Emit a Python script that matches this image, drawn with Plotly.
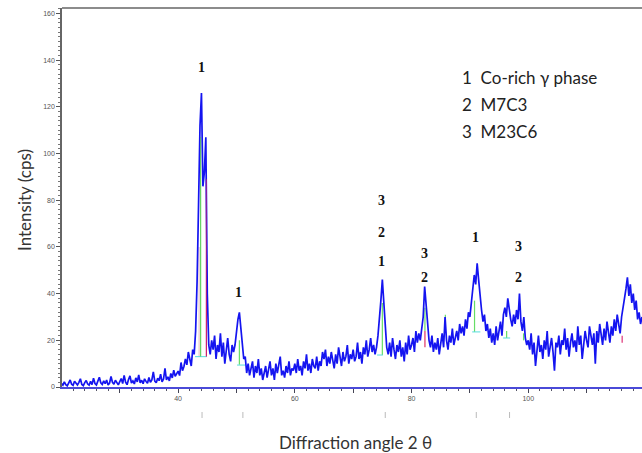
import numpy as np
import plotly.graph_objects as go

# ---- data: XRD scan (2-theta grid 20..119.5, step 0.25) ----
angle_start = 20.0
angle_step = 0.25
c20 = [1.5, 0.8, 2.2, 1.0, 0.5, 1.8, 3.0, 1.2, 0.7, 2.5, 1.4, 0.9, 2.0, 3.5, 1.1, 0.6, 1.9, 2.8, 1.3, 0.8]
c25 = [2.4, 1.0, 3.8, 1.5, 0.9, 2.2, 4.2, 1.8, 1.1, 2.6, 1.4, 3.0, 0.8, 1.7, 4.5, 2.0, 1.2, 2.9, 1.6, 0.9]
c30 = [2.3, 3.6, 1.5, 5.0, 2.1, 1.0, 3.2, 4.8, 1.7, 2.6, 1.3, 3.9, 2.2, 5.2, 1.8, 2.9, 1.4, 3.5, 2.4, 1.6]
c35 = [4.1, 2.0, 3.0, 6.5, 2.5, 1.8, 3.8, 2.7, 5.5, 2.2, 3.4, 8.0, 3.0, 4.4, 2.6, 5.8, 3.9, 7.2, 4.6, 5.5]
c40 = [6.8, 4.9, 10.5, 7.0, 8.8, 12.0, 9.5, 15.0, 11.5, 9.0, 16.0, 14.0, 24.0, 45.0, 78.0, 112.0, 126.0, 86.0, 92.0, 107.0]
c45 = [40, 18, 14, 20, 16, 22, 12, 18, 15, 23, 13, 19, 10, 17, 21, 14, 11, 18, 15, 18]
c50 = [24, 29, 32, 26, 17, 12, 13, 6, 10, 5, 8, 11, 4, 9, 6, 12, 5, 8, 3, 7]
c55 = [9, 4, 7, 11, 5, 8, 3, 10, 6, 9, 13, 5, 7, 4, 9, 6, 11, 5, 8, 7]
c60 = [10, 6, 12, 7, 9, 5, 11, 8, 14, 7, 10, 6, 12, 9, 8, 13, 7, 11, 9, 15]
c65 = [12, 16, 9, 13, 10, 15, 11, 8, 14, 10, 17, 12, 9, 15, 11, 13, 18, 10, 14, 12]
c70 = [16, 11, 13, 19, 12, 15, 10, 17, 14, 20, 13, 16, 21, 15, 18, 14, 17, 22, 28, 37]
c75 = [46, 35, 24, 17, 14, 19, 13, 21, 16, 12, 18, 15, 20, 13, 17, 11, 19, 14, 22, 16]
c80 = [18, 21, 15, 24, 19, 23, 20, 26, 30, 43, 35, 24, 20, 17, 22, 15, 19, 16, 21, 14]
c85 = [18, 23, 17, 30, 20, 16, 22, 19, 25, 18, 21, 24, 20, 27, 23, 26, 22, 29, 25, 32]
c90 = [30, 36, 42, 48, 44, 53, 46, 38, 33, 28, 31, 24, 27, 21, 25, 19, 23, 18, 26, 20]
c95 = [24, 28, 22, 31, 34, 30, 38, 33, 29, 26, 31, 27, 33, 29, 40, 28, 24, 30, 21, 18]
c100 = [20, 16, 23, 14, 19, 9, 17, 22, 15, 18, 12, 20, 16, 24, 13, 18, 21, 15, 7, 19]
c105 = [17, 22, 14, 20, 18, 25, 16, 21, 13, 19, 23, 17, 20, 15, 26, 18, 22, 12, 19, 24]
c110 = [20, 17, 26, 21, 18, 23, 10, 24, 19, 27, 22, 18, 25, 20, 28, 23, 19, 26, 22, 29]
c115 = [24, 31, 27, 23, 30, 35, 38, 42, 47, 39, 44, 36, 40, 33, 37, 29, 32, 27, 30]

intensity = (c20 + c25 + c30 + c35 + c40 + c45 + c50 + c55 + c60 + c65 + c70 + c75
             + c80 + c85 + c90 + c95 + c100 + c105 + c110 + c115)
angle = angle_start + angle_step * np.arange(len(intensity))

# peak marker lines from the software (x, y from, y to, colour)
marker_x = [43.6, 43.85, 44.85, 50.5, 75.0, 82.3, 82.3, 85.8, 90.8, 96.3, 99.2, 116.1]
marker_y0 = [13, 13, 13, 9.5, 13.7, 17, 24, 26, 23.6, 21, 20, 19]
marker_y1 = [60, 107, 89, 20, 36, 24, 34, 31, 37, 24, 23, 22]
marker_c = ["#e8c8c8", "#66dd66", "#cc2266", "#66dd66", "#66dd66", "#dd3366", "#66dd66",
            "#66dd66", "#66dd66", "#66dd66", "#66dd66", "#dd3377"]
base_x0 = [42.9, 50.1, 74.1, 90.4, 95.7]
base_x1 = [44.9, 51.5, 75.1, 91.8, 96.9]
base_y = [13, 9.4, 13.7, 23.6, 21]

# reference pattern ticks below the axis
ref_ticks = [44.1, 51.1, 75.5, 91.1, 96.8]

# peak labels
label_x = [44.0, 50.4, 74.8, 74.8, 74.8, 82.3, 82.3, 90.9, 98.3, 98.3]
label_y = [136.7, 40.3, 80.1, 66.4, 53.6, 57.4, 47.1, 63.9, 60.4, 47.1]
label_t = ["1", "1", "3", "2", "1", "3", "2", "1", "3", "2"]

legend_lines = ["1  Co-rich γ phase", "2  M7C3", "3  M23C6"]

x_ticks = [30, 40, 50, 60, 70, 80, 90, 100, 110, 120]
x_ticktext = ["", "40", "", "60", "", "80", "", "100", "", "120"]
y_ticks = [0, 20, 40, 60, 80, 100, 120, 140, 160]

fig = go.Figure()

for xm, y0, y1, c in zip(marker_x, marker_y0, marker_y1, marker_c):
    fig.add_trace(go.Scatter(x=[xm, xm], y=[y0, y1], mode="lines",
                             line=dict(color=c, width=1.2), hoverinfo="skip", showlegend=False))
for x0, x1, yb in zip(base_x0, base_x1, base_y):
    fig.add_trace(go.Scatter(x=[x0, x1], y=[yb, yb], mode="lines",
                             line=dict(color="#55dddd", width=1), hoverinfo="skip", showlegend=False))

fig.add_trace(go.Scatter(x=angle, y=intensity, mode="lines",
                         line=dict(color="#1414f0", width=1.7), showlegend=False))

# marker lines that sit on top of the main peak
fig.add_trace(go.Scatter(x=[marker_x[1], marker_x[1]], y=[marker_y0[1], marker_y1[1]], mode="lines",
                         line=dict(color="#66cc66", width=1), opacity=0.7, hoverinfo="skip", showlegend=False))
fig.add_trace(go.Scatter(x=[marker_x[2], marker_x[2]], y=[marker_y0[2], marker_y1[2]], mode="lines",
                         line=dict(color="#cc2277", width=1), opacity=0.7, hoverinfo="skip", showlegend=False))

annotations = []
for lx, ly, lt in zip(label_x, label_y, label_t):
    annotations.append(dict(x=lx, y=ly, xref="x", yref="y", text="<b>" + lt + "</b>", showarrow=False,
                            font=dict(family="Liberation Serif", size=14, color="#111")))
for i, t in enumerate(legend_lines):
    annotations.append(dict(x=460, y=77 + 27 * i, text=t, showarrow=False,
                            xanchor="left", yanchor="middle",
                            font=dict(family="Lato", size=17, color="#222")))
annotations.append(dict(x=355, y=442, text="Diffraction angle 2 θ", showarrow=False,
                        xanchor="center", yanchor="middle", font=dict(family="Lato", size=17, color="#333")))
annotations.append(dict(x=24, y=200, text="Intensity (cps)", showarrow=False, textangle=-90,
                        xanchor="center", yanchor="middle", font=dict(family="Lato", size=17, color="#333")))

# convert pixel-placed annotations (legend, titles) to paper coords
L, R, T, B = 62, 0, 8, 66
W, H = 642, 453
pw, ph = W - L - R, H - T - B
for a in annotations:
    if a.get("xref") == "x":
        continue
    a["xref"] = "paper"
    a["yref"] = "paper"
    a["x"] = (a["x"] - L) / pw
    a["y"] = (H - B - a["y"]) / ph

shapes = [dict(type="line", xref="paper", yref="paper", x0=0, x1=1, y0=1, y1=1,
               line=dict(color="#666", width=1.5))]
for rx in ref_ticks:
    shapes.append(dict(type="line", xref="x", yref="paper", x0=rx, x1=rx,
                       y0=-(412 - (H - B)) / ph, y1=-(418 - (H - B)) / ph,
                       line=dict(color="#bbb", width=1)))

fig.update_layout(
    width=W, height=H,
    margin=dict(l=L, r=R, t=T, b=B),
    paper_bgcolor="white", plot_bgcolor="white",
    annotations=annotations, shapes=shapes,
    xaxis=dict(range=[20.1, 119.5], tickmode="array", tickvals=x_ticks, ticktext=x_ticktext,
               showgrid=False, zeroline=False, showline=True, linecolor="#4a4ad8", linewidth=2,
               ticks="outside", ticklen=4, tickcolor="#445", tickwidth=1,
               tickfont=dict(family="Liberation Sans", size=7, color="#555"),
               minor=dict(dtick=2, tick0=0, ticks="outside", ticklen=2, tickcolor="#556", showgrid=False)),
    yaxis=dict(range=[0, 162.4], tickmode="array", tickvals=y_ticks,
               showgrid=False, zeroline=False, showline=True, linecolor="#666", linewidth=1.5,
               ticks="outside", ticklen=4, tickcolor="#555", tickwidth=1,
               tickfont=dict(family="Liberation Sans", size=7, color="#555"),
               minor=dict(dtick=2, tick0=0, ticks="outside", ticklen=2, tickcolor="#777", showgrid=False)),
)

fig.write_html("out.html", config={"displayModeBar": False},
               post_script="document.body.style.margin='0';document.body.style.overflow='hidden';")
